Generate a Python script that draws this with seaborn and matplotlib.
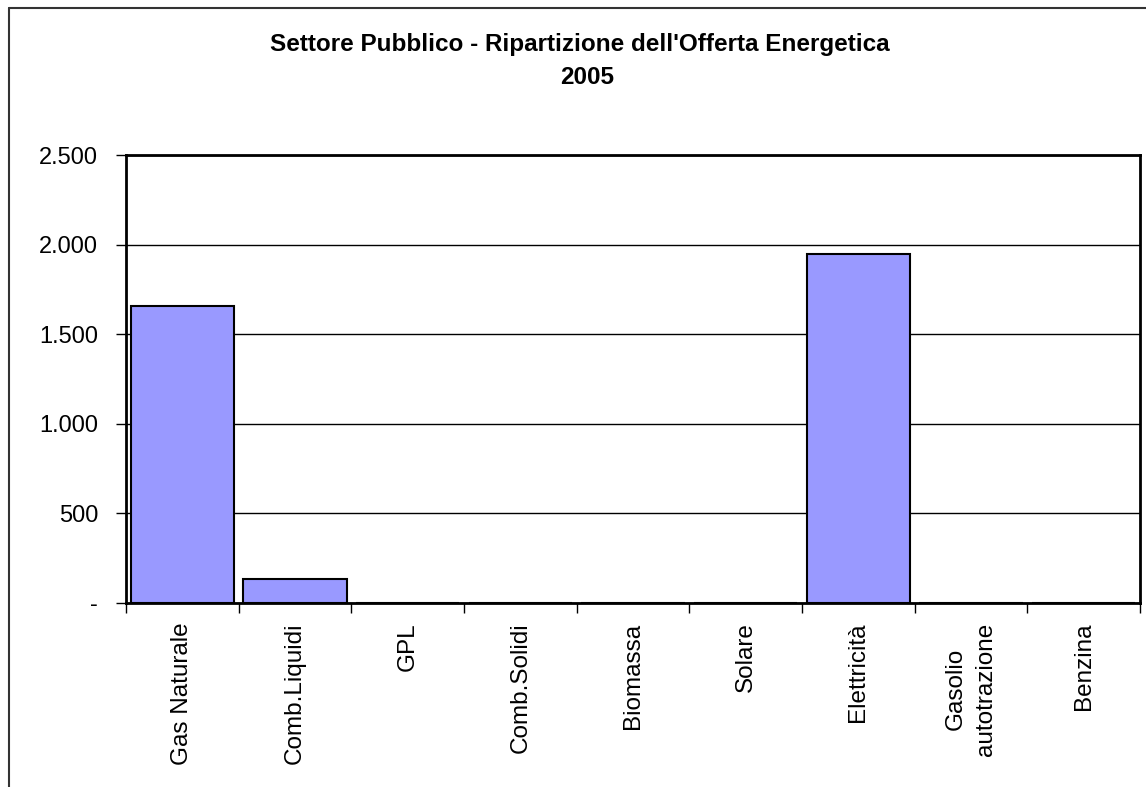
import seaborn as sns
import matplotlib.pyplot as plt
from matplotlib.lines import Line2D
from matplotlib.ticker import FixedLocator, FuncFormatter

# data
categories = ["Gas Naturale", "Comb.Liquidi", "GPL", "Comb.Solidi", "Biomassa",
              "Solare", "Elettricità", "Gasolio\nautotrazione", "Benzina"]
values = [1655, 134, 0, 0, 0, 0, 1945, 0, 0]
y_ticks = [0, 500, 1000, 1500, 2000, 2500]

sns.set_style("white")
plt.rcParams['font.family'] = ['Liberation Sans', 'DejaVu Sans']
plt.rcParams['text.color'] = 'black'
plt.rcParams['xtick.color'] = 'black'
plt.rcParams['ytick.color'] = 'black'

W, H = 1146, 787
fig = plt.figure(figsize=(W / 100, H / 100), dpi=100)
ax = fig.add_axes([126 / W, 1 - 603 / H, (1140 - 126) / W, (603 - 155) / H])

sns.barplot(x=categories, y=values, color="#9999FF", saturation=1,
            edgecolor="black", linewidth=1.5, width=0.92, ax=ax, zorder=3)

ax.set_xlim(-0.5, len(categories) - 0.5)
ax.set_ylim(0, 2500)
ax.set_yticks(y_ticks)
ax.yaxis.set_major_formatter(FuncFormatter(
    lambda v, p: "-" if v == 0 else f"{v:,.0f}".replace(",", ".")))
ax.yaxis.grid(True, color="black", linewidth=1, zorder=0)
ax.set_axisbelow(True)

# category labels at centres, tick marks at the boundaries
ax.set_xticks(range(len(categories)))
ax.set_xticklabels(categories, rotation=90, ha="center", va="top", fontsize=17.5,
                   linespacing=1.5)
ax.xaxis.set_minor_locator(FixedLocator([i - 0.5 for i in range(len(categories) + 1)]))
ax.tick_params(axis="x", which="major", length=0, pad=14)
ax.tick_params(axis="x", which="minor", length=7, width=1, color="black", direction="out", bottom=True)
ax.tick_params(axis="y", length=7, width=1, color="black", direction="out", left=True,
               labelsize=17, pad=13)
ax.set_xlabel("")
ax.set_ylabel("")

for s in ax.spines.values():
    s.set_color("black")
    s.set_linewidth(2)

fig.text(580 / W, 1 - 45 / H, "Settore Pubblico - Ripartizione dell'Offerta Energetica",
         ha="center", va="center", fontsize=17.5, fontweight="bold")
fig.text(587 / W, 1 - 77 / H, "2005", ha="center", va="center", fontsize=17.5, fontweight="bold")

# chart frame (left and top edges are visible)
fig.add_artist(Line2D([9 / W, 9 / W], [0, 1 - 8 / H], color="#333333", lw=1.5, transform=fig.transFigure))
fig.add_artist(Line2D([9 / W, 1], [1 - 8 / H, 1 - 8 / H], color="#333333", lw=1.5, transform=fig.transFigure))

fig.savefig("out.png", dpi=100)
